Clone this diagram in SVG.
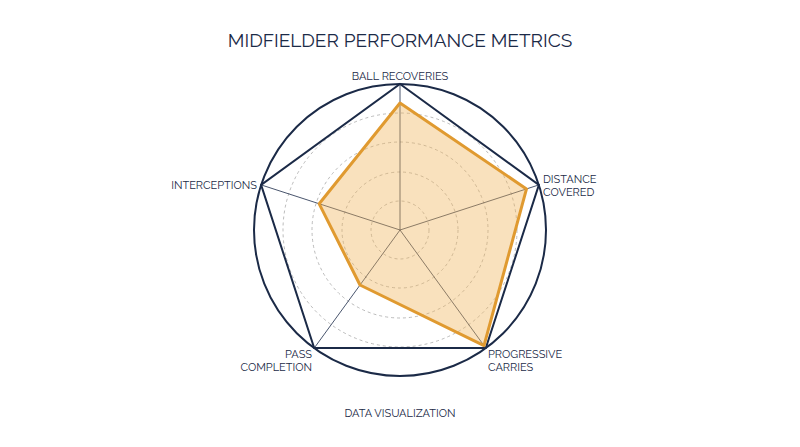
<svg xmlns="http://www.w3.org/2000/svg" width="800" height="447" viewBox="0 0 800 447">
<style>
.t{font-family:Raleway,"Noto Sans","Liberation Sans",sans-serif;fill:#1b2a47;font-size:11px}
.grid{fill:none;stroke:#aaa;stroke-width:0.8;stroke-dasharray:3 3}
.spoke{stroke:#1b2a47;stroke-width:0.8}
</style>
<rect width="800" height="447" fill="#fff"/>
<text class="t" x="400" y="47" text-anchor="middle" style="font-size:19px">MIDFIELDER PERFORMANCE METRICS</text>
<g id="grid">
<circle class="grid" cx="400" cy="230" r="29"/>
<circle class="grid" cx="400" cy="230" r="58"/>
<circle class="grid" cx="400" cy="230" r="88"/>
<circle class="grid" cx="400" cy="230" r="117"/>
<circle cx="400" cy="230" r="146" fill="none" stroke="#1b2a47" stroke-width="2"/>
</g>
<g id="connectors">
<line class="spoke" x1="400" y1="230" x2="400" y2="84"/>
<line class="spoke" x1="400" y1="230" x2="538.9" y2="184.9"/>
<line class="spoke" x1="400" y1="230" x2="485.8" y2="348.1"/>
<line class="spoke" x1="400" y1="230" x2="314.2" y2="348.1"/>
<line class="spoke" x1="400" y1="230" x2="261.1" y2="184.9"/>
</g>
<polygon id="frame" points="400,84 538.9,184.9 485.8,348.1 314.2,348.1 261.1,184.9" fill="none" stroke="#1b2a47" stroke-width="2"/>
<polygon id="data" points="400,103 526.5,188.9 484,345.6 360,285 319.2,203.8" fill="#f0b45a" fill-opacity="0.4" stroke="#e09a30" stroke-width="3" stroke-linejoin="round"/>
<g id="n1"><text class="t" x="400" y="80" text-anchor="middle">BALL RECOVERIES</text></g>
<g id="n2"><text class="t" x="543" y="183">DISTANCE</text><text class="t" x="543" y="196">COVERED</text></g>
<g id="n3"><text class="t" x="488" y="358">PROGRESSIVE</text><text class="t" x="488" y="371">CARRIES</text></g>
<g id="n4"><text class="t" x="312" y="358" text-anchor="end">PASS</text><text class="t" x="312" y="371" text-anchor="end">COMPLETION</text></g>
<g id="n5"><text class="t" x="257" y="189" text-anchor="end">INTERCEPTIONS</text></g>
<text class="t" x="400" y="417" text-anchor="middle">DATA VISUALIZATION</text>
</svg>
